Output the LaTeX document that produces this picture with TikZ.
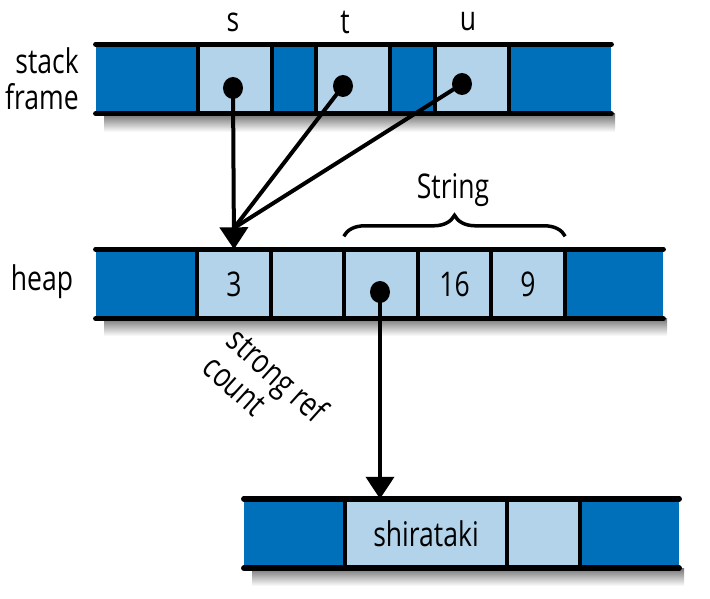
\documentclass[tikz,border=0pt]{standalone}
\usepackage{fontspec}
\setmainfont{Open Sans}[FakeStretch=0.78]
\usetikzlibrary{shapes.geometric}
\usetikzlibrary{arrows.meta}
\usetikzlibrary{decorations.pathreplacing}
\definecolor{darkcell}{RGB}{0,112,186}
\definecolor{lightcell}{RGB}{178,211,234}
\tikzset{
  font={\fontsize{34pt}{36pt}\selectfont}}

\begin{document}
\begin{tikzpicture}[x=1pt, y=-1pt]

    \tikzset{cell/.style = {rectangle, inner sep=0pt, minimum height=69pt},
             dark/.style = {cell, fill=darkcell},
             light/.style = {cell, fill=lightcell},
             rail/.style = {line width=5.5pt, line cap=round},
             divider/.style = {line width=4pt},
             dot/.style = {ellipse, fill=black, inner sep=0pt, minimum width=20pt, minimum height=22pt},
             ptr/.style = {line width=4pt},
             edge/.style = {ptr, -{Triangle[width=28pt, length=22pt]}},
             rowshadow/.style = {top color=black!55, bottom color=white}}

    \useasboundingbox (0,0) rectangle (710,599);

    % shadows
    \fill[rowshadow] (104,114) rectangle (615,132);
    \fill[rowshadow] (104,318) rectangle (667,336);
    \fill[rowshadow] (252,568) rectangle (684,586);

    % stack frame
    \node[dark, minimum width=102pt] (sk1) at (147,79) {};
    \node[light, minimum width=74pt] (sks) at (235,79) {};
    \node[dark, minimum width=44pt] (sk2) at (294,79) {};
    \node[light, minimum width=74pt] (skt) at (353,79) {};
    \node[dark, minimum width=45pt] (sk3) at (412.5,79) {};
    \node[light, minimum width=74pt] (sku) at (472,79) {};
    \node[dark, minimum width=102pt] (sk4) at (560,79) {};

    % heap
    \node[dark, minimum width=101pt] (hp1) at (146.5,284) {};
    \node[light, minimum width=74pt] (hpc) at (234,284) {3};
    \node[light, minimum width=73pt] (hpe) at (307.5,284) {};
    \node[light, minimum width=74pt] (hpp) at (381,284) {};
    \node[light, minimum width=73pt] (hpcap) at (454.5,284) {16};
    \node[light, minimum width=74pt] (hplen) at (528,284) {9};
    \node[dark, minimum width=98pt] (hp2) at (614,284) {};

    % string buffer
    \node[dark, minimum width=101pt] (bt1) at (294.5,533.5) {};
    \node[light, minimum width=162pt] (btstr) at (426,533.5) {shirataki};
    \node[light, minimum width=73pt] (bte) at (543.5,533.5) {};
    \node[dark, minimum width=99pt] (bt2) at (629.5,533.5) {};

    % cell borders
    \foreach \c in {sks,sk2,skt,sk3,sku,sk4,hpc,hpe,hpp,hpcap,hplen,hp2,btstr,bte,bt2}
        \draw[divider] (\c.north west) -- (\c.south west);
    \draw[rail] (sk1.north west) -- (sk4.north east);
    \draw[rail] (sk1.south west) -- (sk4.south east);
    \draw[rail] (hp1.north west) -- (hp2.north east);
    \draw[rail] (hp1.south west) -- (hp2.south east);
    \draw[rail] (bt1.north west) -- (bt2.north east);
    \draw[rail] (bt1.south west) -- (bt2.south east);

    % labels
    \node[align=right] (stk) at (42,79) {stack\\frame};
    \node (hplbl) at (42,282) {heap};
    \node (slbl) at (233,22) {s};
    \node (tlbl) at (345,22) {t};
    \node (ulbl) at (468,22) {u};
    \node (strlbl) at (453,190) {String};
    \node[rotate=-42, align=left] (rclbl) at (266,388) {strong ref\\count};
    \draw[line width=3.5pt, decorate, decoration={brace, amplitude=21pt}]
        ([yshift=13pt]hpp.north west) -- ([yshift=13pt]hplen.north east);

    % pointers
    \node[dot] (ps) at (233,88) {};
    \node[dot] (pt) at (343,86) {};
    \node[dot] (pu) at (462,84) {};
    \node[dot] (ph) at (380,292) {};
    \coordinate (meet) at (234,228);

    \draw[edge] (ps.center) -- (hpc.north);
    \draw[ptr] (pt.center) -- (meet);
    \draw[ptr] (pu.center) -- (meet);
    \draw[edge] (ph.center) -- (ph.center |- btstr.north);

\end{tikzpicture}
\end{document}
